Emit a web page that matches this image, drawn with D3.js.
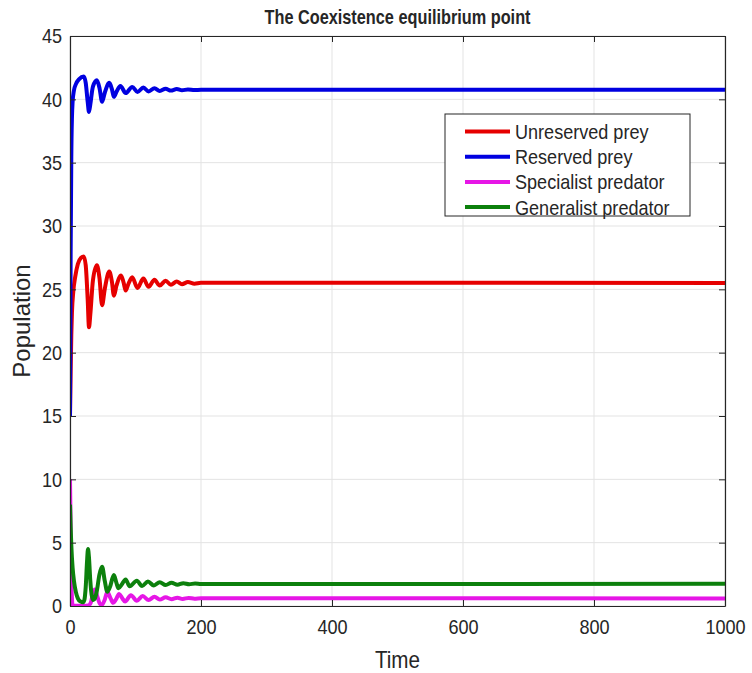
<!DOCTYPE html>
<html>
<head>
<meta charset="utf-8">
<script src="https://cdn.jsdelivr.net/npm/d3@7"></script>
<style>
  html, body { margin: 0; padding: 0; background: #fff; }
  svg { display: block; }
  text { font-family: "Liberation Sans", Arial, Helvetica, sans-serif; fill: #262626; }
</style>
</head>
<body>
<svg id="chart" width="752" height="673"></svg>
<script>
// Solution trajectories [time, population] of the four-species system
const unreservedPrey = [
  [0, 15], [1, 18.5], [2, 21.4], [3, 23.2], [5, 24.8], [8, 26.0], [12, 27.0], [17, 27.5],
  [21, 27.6], [24, 26.9], [27, 24.2], [29, 22.0], [31, 23.0], [35, 25.7], [41, 26.9],
  [45, 25.9], [49, 23.75], [53, 25.0], [60, 26.4], [64, 25.6], [67, 24.5], [71, 25.3],
  [78, 26.1], [82, 25.5], [85, 24.9], [89, 25.4], [95, 25.95], [103, 25.1], [112, 25.85],
  [120, 25.2], [129, 25.75], [137, 25.3], [146, 25.68], [154, 25.36], [163, 25.62],
  [171, 25.41], [180, 25.57], [190, 25.45], [200, 25.52], [1000, 25.5]
];
const reservedPrey = [
  [0, 15], [1, 28], [2, 35.5], [3, 38.6], [4, 39.8], [6, 40.7], [9, 41.2], [14, 41.6],
  [21, 41.8], [24, 41.3], [27, 39.8], [29, 39.0], [31, 39.6], [35, 41.0], [41, 41.5],
  [45, 40.9], [49, 39.8], [53, 40.5], [60, 41.3], [64, 40.8], [67, 40.2], [71, 40.6],
  [77, 41.05], [85, 40.5], [95, 40.98], [103, 40.58], [112, 40.93], [120, 40.62],
  [129, 40.88], [137, 40.66], [146, 40.84], [154, 40.69], [163, 40.81], [171, 40.71],
  [180, 40.78], [190, 40.73], [200, 40.76], [1000, 40.75]
];
const specialistPredator = [
  [0, 10], [1, 6], [2, 2.5], [3, 0.6], [4, 0.1], [6, 0.02], [20, 0.02], [28, 0.05],
  [32, 0.3], [35, 1.0], [38, 1.3], [42, 0.7], [46, 0.15], [49, 0.1], [53, 0.5], [57, 1.1],
  [62, 0.6], [66, 0.25], [70, 0.5], [75, 0.95], [80, 0.6], [84, 0.35], [93, 0.85],
  [102, 0.42], [111, 0.78], [120, 0.47], [129, 0.73], [137, 0.51], [146, 0.69],
  [155, 0.54], [164, 0.66], [172, 0.56], [181, 0.64], [190, 0.58], [200, 0.61], [1000, 0.6]
];
const generalistPredator = [
  [0, 8], [1, 6.2], [2, 4.8], [4, 3.0], [6, 2.0], [9, 1.1], [12, 0.6], [16, 0.35],
  [20, 0.3], [22, 0.5], [24, 1.5], [26, 3.5], [27.5, 4.5], [29, 3.8], [31, 2.0], [33, 0.9],
  [35.5, 0.47], [38, 0.6], [41, 1.2], [45, 2.5], [49, 3.1], [53, 2.0], [57, 1.13], [61, 1.5],
  [67, 2.45], [71, 1.8], [74, 1.4], [79, 1.7], [85, 2.1], [91, 1.55], [102, 2.0], [110, 1.58],
  [119, 1.93], [128, 1.62], [137, 1.88], [146, 1.65], [155, 1.84], [164, 1.68], [173, 1.8],
  [182, 1.71], [191, 1.78], [200, 1.74], [1000, 1.75]
];

const seriesNames = ["Unreserved prey", "Reserved prey", "Specialist predator", "Generalist predator"];
const seriesColors = ["#e60000", "#0000e0", "#e616e6", "#0c800c"];
const xTicks = [0, 200, 400, 600, 800, 1000];
const yTicks = [0, 5, 10, 15, 20, 25, 30, 35, 40, 45];

const chartTitle = "The Coexistence equilibrium point";
const xLabel = "Time";
const yLabel = "Population";

const svg = d3.select("#chart");
const margin = { left: 70, right: 27, top: 36, bottom: 67 };
const W = 752, H = 673;
const plotW = W - margin.left - margin.right;
const plotH = H - margin.top - margin.bottom;

const x = d3.scaleLinear().domain([0, 1000]).range([margin.left, margin.left + plotW]);
const y = d3.scaleLinear().domain([0, 45]).range([margin.top + plotH, margin.top]);

// horizontally condensed lettering
function condense(sel, factor = 0.86) {
  sel.each(function () {
    const w = this.getComputedTextLength();
    d3.select(this).attr("textLength", w * factor).attr("lengthAdjust", "spacingAndGlyphs");
  });
}

// grid
const grid = svg.append("g");
grid.selectAll(".gx").data(xTicks).join("line")
  .attr("x1", d => x(d)).attr("x2", d => x(d))
  .attr("y1", y(0)).attr("y2", y(45))
  .attr("stroke", "#e3e3e3").attr("stroke-width", 1);
grid.selectAll(".gy").data(yTicks).join("line")
  .attr("x1", x(0)).attr("x2", x(1000))
  .attr("y1", d => y(d)).attr("y2", d => y(d))
  .attr("stroke", "#e3e3e3").attr("stroke-width", 1);

// series
const line = d3.line().x(d => x(d[0])).y(d => y(d[1])).curve(d3.curveMonotoneX);
const allSeries = [unreservedPrey, reservedPrey, specialistPredator, generalistPredator];
svg.append("clipPath").attr("id", "plotclip").append("rect")
  .attr("x", margin.left).attr("y", margin.top - 3).attr("width", plotW).attr("height", plotH + 3);
svg.append("g").attr("clip-path", "url(#plotclip)")
  .selectAll("path").data(allSeries).join("path")
  .attr("d", line)
  .attr("fill", "none")
  .attr("stroke", (d, i) => seriesColors[i])
  .attr("stroke-width", 4)
  .attr("stroke-linejoin", "round");

// axes with inward ticks on all four sides
const fmt = d3.format("d");
const axB = svg.append("g").attr("transform", `translate(0,${y(0)})`)
  .call(d3.axisBottom(x).tickValues(xTicks).tickFormat(fmt).tickSizeInner(-6).tickSizeOuter(0).tickPadding(13));
const axT = svg.append("g").attr("transform", `translate(0,${y(45)})`)
  .call(d3.axisTop(x).tickValues(xTicks).tickSizeInner(-6).tickSizeOuter(0).tickFormat(""));
const axL = svg.append("g").attr("transform", `translate(${x(0)},0)`)
  .call(d3.axisLeft(y).tickValues(yTicks).tickFormat(fmt).tickSizeInner(-6).tickSizeOuter(0).tickPadding(8));
const axR = svg.append("g").attr("transform", `translate(${x(1000)},0)`)
  .call(d3.axisRight(y).tickValues(yTicks).tickSizeInner(-6).tickSizeOuter(0).tickFormat(""));
[axB, axT, axL, axR].forEach(a => {
  a.select(".domain").attr("stroke", "#262626").attr("stroke-width", 1.2);
  a.selectAll(".tick line").attr("stroke", "#262626");
  a.selectAll("text").style("font-size", "21px").attr("fill", "#262626")
    .style("font-family", '"Liberation Sans", Arial, sans-serif');
});
condense(axB.selectAll("text"));
condense(axL.selectAll("text"));

// title and labels
svg.append("text").attr("x", x(500)).attr("y", 24).attr("text-anchor", "middle")
  .style("font-size", "21px").style("font-weight", "bold").attr("fill", "#000").text(chartTitle)
  .attr("textLength", 266).attr("lengthAdjust", "spacingAndGlyphs");
svg.append("text").attr("x", x(500)).attr("y", 668).attr("text-anchor", "middle")
  .style("font-size", "24px").text(xLabel).call(condense);
svg.append("text").attr("transform", `translate(30,${y(22.5)}) rotate(-90)`).attr("text-anchor", "middle")
  .style("font-size", "24px").text(yLabel);

// legend
const lg = svg.append("g").attr("transform", "translate(445,114)");
lg.append("rect").attr("width", 245).attr("height", 102)
  .attr("fill", "#fff").attr("stroke", "#262626").attr("stroke-width", 1);
const rows = lg.selectAll("g.row").data(seriesNames).join("g")
  .attr("transform", (d, i) => `translate(0,${17.5 + i * 25.2})`);
rows.append("line").attr("x1", 20).attr("x2", 65).attr("y1", 0).attr("y2", 0)
  .attr("stroke", (d, i) => seriesColors[i]).attr("stroke-width", 4);
rows.append("text").attr("x", 70).attr("y", 7.5).style("font-size", "21px").attr("fill", "#000")
  .text(d => d).call(condense);
</script>
</body>
</html>
